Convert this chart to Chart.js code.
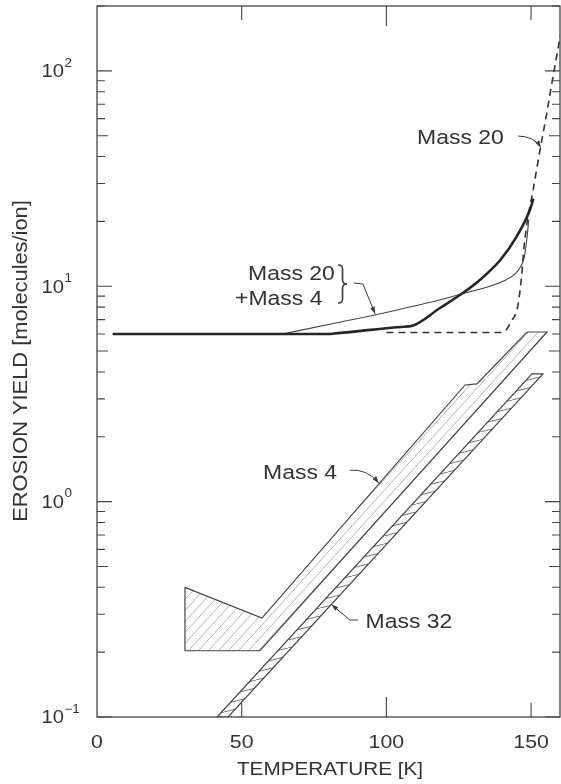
<!DOCTYPE html>
<html>
<head>
<meta charset="utf-8">
<title>Erosion yield vs temperature</title>
<script src="https://cdn.jsdelivr.net/npm/chart.js@4.4.1/dist/chart.umd.min.js"></script>
<style>
  html, body { margin: 0; padding: 0; background: #fff; }
  #wrap { width: 561px; height: 784px; position: relative; }
</style>
</head>
<body>
<div id="wrap"><canvas id="chart"></canvas></div>
<script>
// temperature in K, yield in molecules/ion

// thick curve
const totalTemp  = [5.4, 80, 82, 94.5, 105, 109, 118.4, 125.4, 132.3, 139.3, 145, 149.6, 150.8];
const totalYield = [6.0, 6.0, 6.03, 6.27, 6.47, 6.55, 7.9, 9.1, 10.7, 13.2, 17.0, 22.6, 25.5];

// thin curve, Mass 20 + Mass 4
const mixTemp  = [64, 80, 97.5, 118, 125, 141.3, 144.8, 146.5, 147.7, 148.5, 149.2];
const mixYield = [6.0, 6.64, 7.43, 8.6, 9.12, 10.7, 11.5, 12.4, 13.7, 16.4, 20.3];

// dashed curve, Mass 20
const m20Temp  = [100, 139, 141.5, 143.1, 145.4, 146.6, 147.6, 148.8, 150.5, 153.3, 155, 156.8, 158.6, 161];
const m20Yield = [6.1, 6.1, 6.3, 6.86, 8.05, 10.7, 15.3, 20.4, 27, 44.5, 59, 81.6, 112, 170];

// Mass 4 band, closed outline
const m4Temp  = [30.4, 57.0, 127.2, 131.3, 148.6, 155.5, 56.3, 30.4, 30.4];
const m4Yield = [0.40, 0.288, 3.48, 3.52, 6.13, 6.13, 0.203, 0.203, 0.40];

// Mass 32 band, closed outline
const m32Temp  = [41.5, 150.3, 154.1, 45.3, 41.5];
const m32Yield = [0.1, 3.92, 3.92, 0.1, 0.1];

const xTicks = [0, 50, 100, 150];
const xTickLabels = ['0', '50', '100', '150'];
const yDecades = [-1, 0, 1, 2];
const yExponents = ['\u22121', '0', '1', '2'];

// text anchors (data units, left edge / baseline)
const notes = [
  { text: 'Mass 20', t: 110.6, y: 45.7 },
  { text: 'Mass 20', t: 52.2, y: 10.69 },
  { text: '+Mass 4', t: 47.7, y: 8.18 },
  { text: 'Mass 4', t: 57.4, y: 1.27 },
  { text: 'Mass 32', t: 92.8, y: 0.259 }
];
const arrows = [
  { pts: [[145.5, 49.8], [151.0, 49.8], [153.4, 44.0]], curved: true },
  { pts: [[88.8, 10.35], [91.9, 10.24], [96.1, 7.45]], curved: false },
  { pts: [[87.4, 1.40], [93.3, 1.42], [97.4, 1.22]], curved: true },
  { pts: [[90.2, 0.282], [87.4, 0.282], [81.0, 0.333]], curved: false }
];
const braceBox = { t0: 83.3, t1: 86.4, top: 12.55, bottom: 8.36 };

const FONT = '"Liberation Sans", Arial, Helvetica, sans-serif';
const INK = '#333';

const pts = (xs, ys) => xs.map((x, i) => ({ x, y: ys[i] }));

function hatch(w, h, color, lw) {
  const c = document.createElement('canvas');
  c.width = w; c.height = h;
  const g = c.getContext('2d');
  g.strokeStyle = color;
  g.lineWidth = lw;
  g.beginPath();
  for (const dx of [-w, 0, w]) {
    g.moveTo(dx, h);
    g.lineTo(dx + w, 0);
  }
  g.stroke();
  return g.createPattern(c, 'repeat');
}

function say(ctx, text, x, y, size, align, rot) {
  ctx.save();
  ctx.translate(x, y);
  if (rot) ctx.rotate(rot);
  ctx.scale(1.12, 1);
  ctx.font = size + 'px ' + FONT;
  ctx.textAlign = align;
  ctx.textBaseline = 'alphabetic';
  ctx.fillStyle = INK;
  ctx.fillText(text, 0, 0);
  ctx.restore();
}

function drawArrow(ctx, p, curved) {
  ctx.beginPath();
  ctx.moveTo(p[0].x, p[0].y);
  if (curved) {
    ctx.quadraticCurveTo(p[1].x, p[1].y, p[2].x, p[2].y);
  } else {
    for (let k = 1; k < p.length; k++) ctx.lineTo(p[k].x, p[k].y);
  }
  ctx.stroke();
  const a = p[p.length - 1], b = p[p.length - 2];
  const ang = Math.atan2(a.y - b.y, a.x - b.x);
  const L = 7, W = 2.4, c = Math.cos(ang), s = Math.sin(ang);
  ctx.beginPath();
  ctx.moveTo(a.x, a.y);
  ctx.lineTo(a.x - L * c + W * s, a.y - L * s - W * c);
  ctx.lineTo(a.x - L * c - W * s, a.y - L * s + W * c);
  ctx.closePath();
  ctx.fill();
}

function drawBrace(ctx, x0, x1, y0, y1) {
  const xm = (x0 + x1) / 2, ym = (y0 + y1) / 2, r = 4;
  ctx.beginPath();
  ctx.moveTo(x0, y0);
  ctx.quadraticCurveTo(xm, y0, xm, y0 + r);
  ctx.lineTo(xm, ym - r);
  ctx.quadraticCurveTo(xm, ym, x1, ym);
  ctx.quadraticCurveTo(xm, ym, xm, ym + r);
  ctx.lineTo(xm, y1 - r);
  ctx.quadraticCurveTo(xm, y1, x0, y1);
  ctx.stroke();
}

// frame, inward ticks, tick labels, axis titles and annotations
const decorations = {
  id: 'decorations',
  afterDraw(chart) {
    const ctx = chart.ctx;
    const { left, right, top, bottom } = chart.chartArea;
    const xs = chart.scales.x, ys = chart.scales.y;
    ctx.save();
    ctx.strokeStyle = '#444';
    ctx.fillStyle = INK;
    ctx.lineWidth = 1.3;
    ctx.strokeRect(left, top, right - left, bottom - top);

    // y ticks on both sides
    ctx.lineWidth = 1.1;
    ctx.beginPath();
    for (const d of yDecades) {
      for (let m = 1; m <= 9; m++) {
        const v = m * Math.pow(10, d);
        if (v > ys.max) continue;
        const py = ys.getPixelForValue(v);
        const len = m === 1 ? 15 : (m === 5 ? 11 : 8);
        ctx.moveTo(left, py); ctx.lineTo(left + len, py);
        ctx.moveTo(right, py); ctx.lineTo(right - len, py);
      }
    }
    // x ticks top and bottom
    for (const t of xTicks) {
      if (t === 0) continue;
      const px = xs.getPixelForValue(t);
      const len = t === 100 ? 20 : 14;
      ctx.moveTo(px, bottom); ctx.lineTo(px, bottom - len);
      ctx.moveTo(px, top); ctx.lineTo(px, top + len);
    }
    ctx.stroke();

    // tick labels
    xTicks.forEach((t, i) => say(ctx, xTickLabels[i], xs.getPixelForValue(t), 747.5, 19, 'center'));
    yDecades.forEach((d, i) => {
      const py = ys.getPixelForValue(Math.pow(10, d));
      say(ctx, '10', 64, py + 6.3, 18, 'right');
      say(ctx, yExponents[i], 64.5, py - 4.2, 12, 'left');
    });

    // axis titles
    say(ctx, 'TEMPERATURE [K]', 330, 774.5, 18.5, 'center');
    say(ctx, 'EROSION YIELD [molecules/ion]', 26.5, 361, 19.5, 'center', -Math.PI / 2);

    // annotations
    for (const n of notes) {
      say(ctx, n.text, xs.getPixelForValue(n.t), ys.getPixelForValue(n.y), 20.5, 'left');
    }
    ctx.lineWidth = 1;
    ctx.strokeStyle = '#3a3a3a';
    ctx.fillStyle = '#3a3a3a';
    for (const a of arrows) {
      const p = a.pts.map(([t, y]) => ({ x: xs.getPixelForValue(t), y: ys.getPixelForValue(y) }));
      drawArrow(ctx, p, a.curved);
    }
    ctx.lineWidth = 1.6;
    drawBrace(ctx,
      xs.getPixelForValue(braceBox.t0), xs.getPixelForValue(braceBox.t1),
      ys.getPixelForValue(braceBox.top), ys.getPixelForValue(braceBox.bottom));
    ctx.restore();
  }
};

new Chart(document.getElementById('chart'), {
  type: 'line',
  data: {
    datasets: [
      {
        label: 'Mass 32',
        data: pts(m32Temp, m32Yield),
        borderColor: '#444',
        borderWidth: 1.2,
        backgroundColor: hatch(32, 8, '#777', 1),
        fill: 'shape',
        tension: 0,
        order: 5
      },
      {
        label: 'Mass 4',
        data: pts(m4Temp, m4Yield),
        borderColor: '#444',
        borderWidth: 1.2,
        backgroundColor: hatch(10, 11, '#aaa', 0.9),
        fill: 'shape',
        tension: 0,
        order: 4
      },
      {
        label: 'Mass 20',
        data: pts(m20Temp, m20Yield),
        borderColor: '#333',
        borderWidth: 1.6,
        borderDash: [7, 5],
        fill: false,
        cubicInterpolationMode: 'monotone',
        order: 3
      },
      {
        label: 'Mass 20 + Mass 4',
        data: pts(mixTemp, mixYield),
        borderColor: '#444',
        borderWidth: 1.1,
        fill: false,
        cubicInterpolationMode: 'monotone',
        order: 2
      },
      {
        label: 'total',
        data: pts(totalTemp, totalYield),
        borderColor: '#262626',
        borderWidth: 2.6,
        fill: false,
        cubicInterpolationMode: 'monotone',
        order: 1
      }
    ]
  },
  options: {
    responsive: true,
    maintainAspectRatio: false,
    animation: false,
    devicePixelRatio: 1,
    layout: { padding: { left: 97, top: 6, right: 1, bottom: 67 } },
    elements: { point: { radius: 0 } },
    plugins: {
      legend: { display: false },
      tooltip: { enabled: false }
    },
    scales: {
      x: { type: 'linear', min: 0, max: 160, display: false },
      y: { type: 'logarithmic', min: 0.1, max: 200, display: false }
    }
  },
  plugins: [decorations]
});
</script>
</body>
</html>
